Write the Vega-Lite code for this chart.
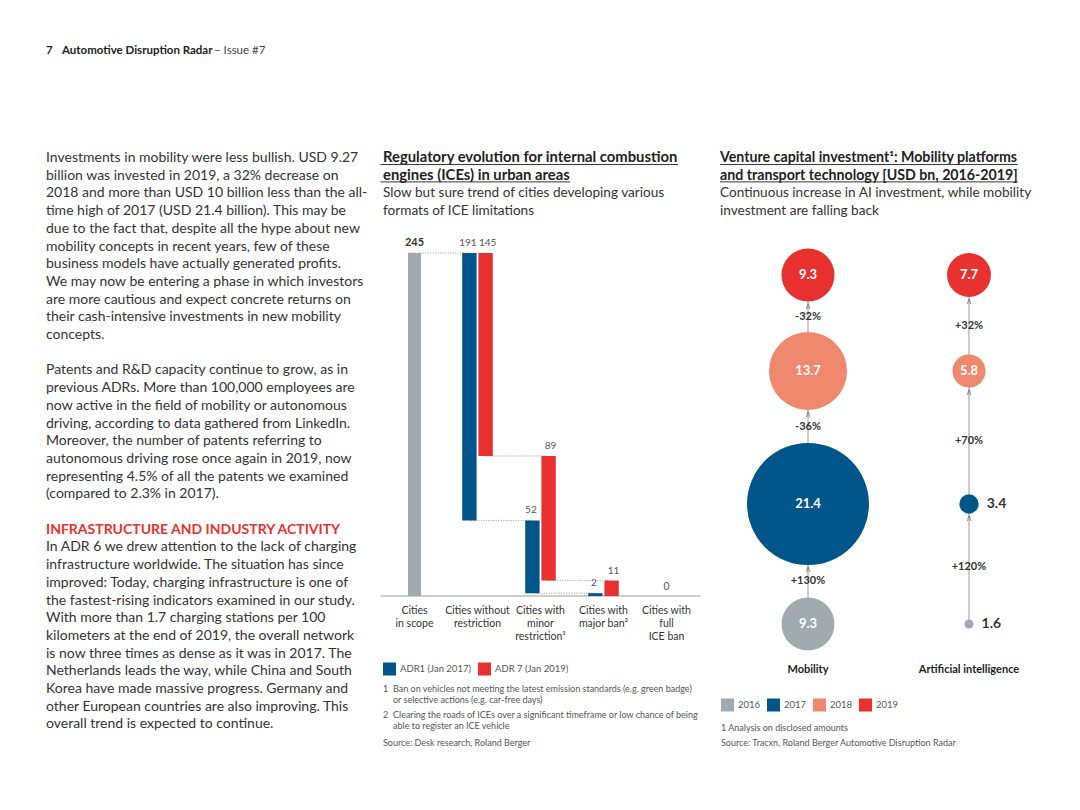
{
  "$schema": "https://vega.github.io/schema/vega-lite/v6.json",
  "background": "white",
  "padding": {"left": 46, "top": 0, "right": 0, "bottom": 0},
  "bounds": "flush",
  "spacing": 19.5,
  "config": {"view": {"stroke": null}},
  "datasets": {
    "leftText": [
      {"row": -6.05, "role": "page", "text": "7"},
      {"row": -6.05, "role": "publication", "text": "Automotive Disruption Radar"},
      {"row": -6.05, "role": "issue", "text": "– Issue #7"},
      {"row": 0, "role": "body", "text": "Investments in mobility were less bullish. USD 9.27"},
      {"row": 1, "role": "body", "text": "billion was invested in 2019, a 32% decrease on"},
      {"row": 2, "role": "body", "text": "2018 and more than USD 10 billion less than the all-"},
      {"row": 3, "role": "body", "text": "time high of 2017 (USD 21.4 billion). This may be"},
      {"row": 4, "role": "body", "text": "due to the fact that, despite all the hype about new"},
      {"row": 5, "role": "body", "text": "mobility concepts in recent years, few of these"},
      {"row": 6, "role": "body", "text": "business models have actually generated profits."},
      {"row": 7, "role": "body", "text": "We may now be entering a phase in which investors"},
      {"row": 8, "role": "body", "text": "are more cautious and expect concrete returns on"},
      {"row": 9, "role": "body", "text": "their cash-intensive investments in new mobility"},
      {"row": 10, "role": "body", "text": "concepts."},
      {"row": 12, "role": "body", "text": "Patents and R&D capacity continue to grow, as in"},
      {"row": 13, "role": "body", "text": "previous ADRs. More than 100,000 employees are"},
      {"row": 14, "role": "body", "text": "now active in the field of mobility or autonomous"},
      {"row": 15, "role": "body", "text": "driving, according to data gathered from LinkedIn."},
      {"row": 16, "role": "body", "text": "Moreover, the number of patents referring to"},
      {"row": 17, "role": "body", "text": "autonomous driving rose once again in 2019, now"},
      {"row": 18, "role": "body", "text": "representing 4.5% of all the patents we examined"},
      {"row": 19, "role": "body", "text": "(compared to 2.3% in 2017)."},
      {"row": 21, "role": "heading", "text": "INFRASTRUCTURE AND INDUSTRY ACTIVITY"},
      {"row": 22, "role": "body", "text": "In ADR 6 we drew attention to the lack of charging"},
      {"row": 23, "role": "body", "text": "infrastructure worldwide. The situation has since"},
      {"row": 24, "role": "body", "text": "improved: Today, charging infrastructure is one of"},
      {"row": 25, "role": "body", "text": "the fastest-rising indicators examined in our study."},
      {"row": 26, "role": "body", "text": "With more than 1.7 charging stations per 100"},
      {"row": 27, "role": "body", "text": "kilometers at the end of 2019, the overall network"},
      {"row": 28, "role": "body", "text": "is now three times as dense as it was in 2017. The"},
      {"row": 29, "role": "body", "text": "Netherlands leads the way, while China and South"},
      {"row": 30, "role": "body", "text": "Korea have made massive progress. Germany and"},
      {"row": 31, "role": "body", "text": "other European countries are also improving. This"},
      {"row": 32, "role": "body", "text": "overall trend is expected to continue."}
    ],
    "midText": [
      {"row": 0, "role": "title", "text": "Regulatory evolution for internal combustion"},
      {"row": 1, "role": "title", "text": "engines (ICEs) in urban areas"},
      {"row": 2, "role": "subtitle", "text": "Slow but sure trend of cities developing various"},
      {"row": 3, "role": "subtitle", "text": "formats of ICE limitations"},
      {"row": 30, "role": "noteNumber", "text": "1"},
      {"row": 30, "role": "note", "text": "Ban on vehicles not meeting the latest emission standards (e.g. green badge)"},
      {"row": 30.62, "role": "note", "text": "or selective actions (e.g. car-free days)"},
      {"row": 31.47, "role": "noteNumber", "text": "2"},
      {"row": 31.47, "role": "note", "text": "Clearing the roads of ICEs over a significant timeframe or low chance of being"},
      {"row": 32.09, "role": "note", "text": "able to register an ICE vehicle"},
      {"row": 33.05, "role": "source", "text": "Source: Desk research, Roland Berger"}
    ],
    "rightText": [
      {"row": 0, "role": "title", "text": "Venture capital investment¹: Mobility platforms"},
      {"row": 1, "role": "title", "text": "and transport technology [USD bn, 2016-2019]"},
      {"row": 2, "role": "subtitle", "text": "Continuous increase in AI investment, while mobility"},
      {"row": 3, "role": "subtitle", "text": "investment are falling back"},
      {"row": 32.2, "role": "source", "text": "1 Analysis on disclosed amounts"},
      {"row": 33.05, "role": "source", "text": "Source: Tracxn, Roland Berger Automotive Disruption Radar"}
    ],
    "midUnderlines": [
      {"row": 0.37, "start": 0.008, "end": 0.93},
      {"row": 1.35, "start": 0.008, "end": 0.593}
    ],
    "rightUnderlines": [
      {"row": 0.37, "start": 0, "end": 0.942},
      {"row": 1.35, "start": 0, "end": 0.942}
    ],
    "categories": [
      {"cat": "Cities in scope", "label": "Cities\nin scope"},
      {"cat": "Cities without restriction", "label": "Cities without\nrestriction"},
      {"cat": "Cities with minor restriction", "label": "Cities with\nminor\nrestriction¹"},
      {"cat": "Cities with major ban", "label": "Cities with\nmajor ban²"},
      {"cat": "Cities with full ICE ban", "label": "Cities with\nfull\nICE ban"}
    ],
    "scope": [
      {"cat": "Cities in scope", "start": 0, "end": 245, "value": 245}
    ],
    "fullBan": [
      {"cat": "Cities with full ICE ban", "start": 0, "end": 0, "value": 0}
    ],
    "bars": [
      {"cat": "Cities without restriction", "series": "ADR1 (Jan 2017)", "start": 54, "end": 245, "value": 191},
      {"cat": "Cities without restriction", "series": "ADR 7 (Jan 2019)", "start": 100, "end": 245, "value": 145},
      {"cat": "Cities with minor restriction", "series": "ADR1 (Jan 2017)", "start": 2, "end": 54, "value": 52},
      {"cat": "Cities with minor restriction", "series": "ADR 7 (Jan 2019)", "start": 11, "end": 100, "value": 89},
      {"cat": "Cities with major ban", "series": "ADR1 (Jan 2017)", "start": 0, "end": 2, "value": 2},
      {"cat": "Cities with major ban", "series": "ADR 7 (Jan 2019)", "start": 0, "end": 11, "value": 11}
    ],
    "links": [
      {"from": "Cities in scope", "to": "Cities without restriction", "level": 245, "series": "ADR1 (Jan 2017)"},
      {"from": "Cities without restriction", "to": "Cities with minor restriction", "level": 54, "series": "ADR1 (Jan 2017)"},
      {"from": "Cities with minor restriction", "to": "Cities with major ban", "level": 2, "series": "ADR1 (Jan 2017)"},
      {"from": "Cities without restriction", "to": "Cities with minor restriction", "level": 100, "series": "ADR 7 (Jan 2019)"},
      {"from": "Cities with minor restriction", "to": "Cities with major ban", "level": 11, "series": "ADR 7 (Jan 2019)"}
    ],
    "bubbles": [
      {"series": "Mobility", "year": 2016, "value": 9.3},
      {"series": "Mobility", "year": 2017, "value": 21.4},
      {"series": "Mobility", "year": 2018, "value": 13.7},
      {"series": "Mobility", "year": 2019, "value": 9.3},
      {"series": "Artificial intelligence", "year": 2016, "value": 1.6},
      {"series": "Artificial intelligence", "year": 2017, "value": 3.4},
      {"series": "Artificial intelligence", "year": 2018, "value": 5.8},
      {"series": "Artificial intelligence", "year": 2019, "value": 7.7}
    ],
    "changes": [
      {"series": "Mobility", "from": 2016, "to": 2017, "period": 2016.5, "change": 12.1, "toValue": 21.4, "label": "+130%"},
      {"series": "Mobility", "from": 2017, "to": 2018, "period": 2017.5, "change": -7.7, "toValue": 13.7, "label": "-36%"},
      {"series": "Mobility", "from": 2018, "to": 2019, "period": 2018.5, "change": -4.4, "toValue": 9.3, "label": "-32%"},
      {"series": "Artificial intelligence", "from": 2016, "to": 2017, "period": 2016.5, "change": 1.8, "toValue": 3.4, "label": "+120%"},
      {"series": "Artificial intelligence", "from": 2017, "to": 2018, "period": 2017.5, "change": 2.4, "toValue": 5.8, "label": "+70%"},
      {"series": "Artificial intelligence", "from": 2018, "to": 2019, "period": 2018.5, "change": 1.9, "toValue": 7.7, "label": "+32%"}
    ],
    "seriesNames": [
      {"series": "Mobility"},
      {"series": "Artificial intelligence"}
    ]
  },
  "hconcat": [
    {
      "width": 315,
      "height": 810,
      "data": {"name": "leftText"},
      "encoding": {
        "x": {"datum": 0, "type": "quantitative", "scale": {"domain": [0, 1], "nice": false, "zero": false}, "axis": null},
        "y": {"field": "row", "type": "quantitative", "scale": {"domain": [-8.9266, 36.8361], "reverse": true, "nice": false, "zero": false}, "axis": null}
      },
      "layer": [
        {
          "transform": [{"filter": "datum.role === 'body'"}],
          "mark": {"type": "text", "align": "left", "baseline": "middle", "font": "Lato", "fontSize": 14, "color": "#333333"},
          "encoding": {"text": {"field": "text"}}
        },
        {
          "transform": [{"filter": "datum.role === 'heading'"}],
          "mark": {"type": "text", "align": "left", "baseline": "middle", "font": "Lato", "fontSize": 14, "fontWeight": "bold", "color": "#E8312F"},
          "encoding": {"text": {"field": "text"}}
        },
        {
          "transform": [{"filter": "datum.role === 'page'"}],
          "mark": {"type": "text", "align": "left", "baseline": "middle", "font": "Lato", "fontSize": 11.5, "fontWeight": "bold", "color": "#222222"},
          "encoding": {"text": {"field": "text"}}
        },
        {
          "transform": [{"filter": "datum.role === 'publication'"}],
          "mark": {"type": "text", "align": "left", "baseline": "middle", "font": "Lato", "fontSize": 11.5, "fontWeight": "bold", "color": "#222222", "dx": 16},
          "encoding": {"text": {"field": "text"}}
        },
        {
          "transform": [{"filter": "datum.role === 'issue'"}],
          "mark": {"type": "text", "align": "left", "baseline": "middle", "font": "Lato", "fontSize": 11.5, "color": "#444444", "dx": 168},
          "encoding": {"text": {"field": "text"}}
        },
        {
          "data": {"values": [{"element": "accent bar"}]},
          "mark": {"type": "rule", "color": "#00558A", "strokeWidth": 4},
          "encoding": {
            "x2": {"datum": 0.146},
            "y": {"datum": -1.64, "type": "quantitative", "scale": {"domain": [-8.9266, 36.8361], "reverse": true, "nice": false, "zero": false}, "axis": null}
          }
        }
      ]
    },
    {
      "width": 320,
      "height": 810,
      "layer": [
        {
          "data": {"name": "midText"},
          "encoding": {
            "x": {"datum": 0, "type": "quantitative", "scale": {"domain": [0, 1], "nice": false, "zero": false}, "axis": null},
            "y": {"field": "row", "type": "quantitative", "scale": {"domain": [-8.9266, 36.8361], "reverse": true, "nice": false, "zero": false}, "axis": null}
          },
          "layer": [
            {
              "transform": [{"filter": "datum.role === 'title'"}],
              "mark": {"type": "text", "align": "left", "baseline": "middle", "font": "Lato", "fontSize": 14.8, "fontWeight": "bold", "color": "#222222", "dx": 2.5},
              "encoding": {"text": {"field": "text"}}
            },
            {
              "data": {"name": "midUnderlines"},
              "mark": {"type": "rule", "color": "#333333", "strokeWidth": 1},
              "encoding": {
                "x": {"field": "start", "type": "quantitative", "scale": {"domain": [0, 1], "nice": false, "zero": false}, "axis": null},
                "x2": {"field": "end"}
              }
            },
            {
              "transform": [{"filter": "datum.role === 'subtitle'"}],
              "mark": {"type": "text", "align": "left", "baseline": "middle", "font": "Lato", "fontSize": 13.6, "color": "#333333", "dx": 2.5},
              "encoding": {"text": {"field": "text"}}
            },
            {
              "transform": [{"filter": "datum.role === 'noteNumber'"}],
              "mark": {"type": "text", "align": "left", "baseline": "middle", "font": "Lato", "fontSize": 9, "color": "#555555", "dx": 2.5},
              "encoding": {"text": {"field": "text"}}
            },
            {
              "transform": [{"filter": "datum.role === 'note'"}],
              "mark": {"type": "text", "align": "left", "baseline": "middle", "font": "Lato", "fontSize": 9, "color": "#555555", "dx": 12.5},
              "encoding": {"text": {"field": "text"}}
            },
            {
              "transform": [{"filter": "datum.role === 'source'"}],
              "mark": {"type": "text", "align": "left", "baseline": "middle", "font": "Lato", "fontSize": 9, "color": "#555555", "dx": 2.5},
              "encoding": {"text": {"field": "text"}}
            },
            {
              "data": {"values": [{"element": "separator"}]},
              "mark": {"type": "rule", "color": "#8A8A8A", "strokeWidth": 1, "strokeDash": [1, 2]},
              "encoding": {
                "x2": {"datum": 1},
                "y": {"datum": -1.7, "type": "quantitative", "scale": {"domain": [-8.9266, 36.8361], "reverse": true, "nice": false, "zero": false}, "axis": null}
              }
            }
          ]
        },
        {
          "layer": [
            {
              "data": {"name": "links"},
              "transform": [{"filter": "datum.series === 'ADR1 (Jan 2017)'"}],
              "mark": {"type": "rule", "color": "#9A9A9A", "strokeWidth": 1, "strokeDash": [1, 1.5]},
              "encoding": {
                "x": {"field": "from", "type": "nominal", "bandPosition": 0.393, "scale": {"domain": ["Cities in scope", "Cities without restriction", "Cities with minor restriction", "Cities with major ban", "Cities with full ICE ban"], "paddingInner": 0, "paddingOuter": 0.0397}, "axis": null},
                "x2": {"field": "to", "bandPosition": 0.393},
                "y": {"field": "level", "type": "quantitative", "scale": {"domain": [-152.86, 425.71], "nice": false, "zero": false}, "axis": null}
              }
            },
            {
              "data": {"name": "links"},
              "transform": [{"filter": "datum.series === 'ADR 7 (Jan 2019)'"}],
              "mark": {"type": "rule", "color": "#9A9A9A", "strokeWidth": 1, "strokeDash": [1, 1.5]},
              "encoding": {
                "x": {"field": "from", "type": "nominal", "bandPosition": 0.607, "scale": {"domain": ["Cities in scope", "Cities without restriction", "Cities with minor restriction", "Cities with major ban", "Cities with full ICE ban"], "paddingInner": 0, "paddingOuter": 0.0397}, "axis": null},
                "x2": {"field": "to", "bandPosition": 0.607},
                "y": {"field": "level", "type": "quantitative", "scale": {"domain": [-152.86, 425.71], "nice": false, "zero": false}, "axis": null}
              }
            },
            {
              "data": {"values": [{"element": "baseline"}]},
              "mark": {"type": "rule", "color": "#9A9A9A", "strokeWidth": 1},
              "encoding": {
                "y": {"datum": 0, "type": "quantitative", "scale": {"domain": [-152.86, 425.71], "nice": false, "zero": false}, "axis": null}
              }
            },
            {
              "data": {"name": "scope"},
              "mark": {"type": "bar", "color": "#A1AAB1", "width": 13},
              "encoding": {
                "x": {"field": "cat", "type": "nominal", "scale": {"domain": ["Cities in scope", "Cities without restriction", "Cities with minor restriction", "Cities with major ban", "Cities with full ICE ban"], "paddingInner": 0, "paddingOuter": 0.0397}, "axis": null},
                "y": {"field": "end", "type": "quantitative", "scale": {"domain": [-152.86, 425.71], "nice": false, "zero": false}, "axis": null},
                "y2": {"field": "start"}
              }
            },
            {
              "data": {"name": "bars"},
              "mark": {"type": "bar"},
              "encoding": {
                "x": {"field": "cat", "type": "nominal", "scale": {"domain": ["Cities in scope", "Cities without restriction", "Cities with minor restriction", "Cities with major ban", "Cities with full ICE ban"], "paddingInner": 0, "paddingOuter": 0.0397}, "axis": null},
                "xOffset": {"field": "series", "type": "nominal", "scale": {"domain": ["ADR1 (Jan 2017)", "ADR 7 (Jan 2019)"], "paddingInner": 0.111, "paddingOuter": 1.389}},
                "y": {"field": "end", "type": "quantitative", "scale": {"domain": [-152.86, 425.71], "nice": false, "zero": false}, "axis": null},
                "y2": {"field": "start"},
                "color": {
                  "field": "series",
                  "type": "nominal",
                  "scale": {"domain": ["ADR1 (Jan 2017)", "ADR 7 (Jan 2019)"], "range": ["#00558A", "#E8312F"]},
                  "legend": {"orient": "none", "legendX": 2.5, "legendY": 662.5, "direction": "horizontal", "title": null, "symbolType": "square", "symbolSize": 169, "symbolStrokeWidth": 0, "labelFont": "Lato", "labelFontSize": 9.5, "labelColor": "#555555", "columnPadding": 7, "labelOffset": 4, "padding": 0}
                }
              }
            },
            {
              "data": {"name": "scope"},
              "mark": {"type": "text", "align": "center", "baseline": "middle", "dy": -10, "font": "Lato", "fontSize": 11, "fontWeight": "bold", "color": "#333333"},
              "encoding": {
                "x": {"field": "cat", "type": "nominal", "scale": {"domain": ["Cities in scope", "Cities without restriction", "Cities with minor restriction", "Cities with major ban", "Cities with full ICE ban"], "paddingInner": 0, "paddingOuter": 0.0397}, "axis": null},
                "y": {"field": "end", "type": "quantitative", "scale": {"domain": [-152.86, 425.71], "nice": false, "zero": false}, "axis": null},
                "text": {"field": "value"}
              }
            },
            {
              "data": {"name": "fullBan"},
              "mark": {"type": "text", "align": "center", "baseline": "middle", "dy": -9, "font": "Lato", "fontSize": 10.5, "color": "#555555"},
              "encoding": {
                "x": {"field": "cat", "type": "nominal", "scale": {"domain": ["Cities in scope", "Cities without restriction", "Cities with minor restriction", "Cities with major ban", "Cities with full ICE ban"], "paddingInner": 0, "paddingOuter": 0.0397}, "axis": null},
                "y": {"field": "end", "type": "quantitative", "scale": {"domain": [-152.86, 425.71], "nice": false, "zero": false}, "axis": null},
                "text": {"field": "value"}
              }
            },
            {
              "data": {"name": "bars"},
              "transform": [{"filter": "datum.series === 'ADR1 (Jan 2017)'"}],
              "mark": {"type": "text", "align": "center", "baseline": "middle", "dy": -10, "dx": -1.5, "font": "Lato", "fontSize": 10, "color": "#555555"},
              "encoding": {
                "x": {"field": "cat", "type": "nominal", "scale": {"domain": ["Cities in scope", "Cities without restriction", "Cities with minor restriction", "Cities with major ban", "Cities with full ICE ban"], "paddingInner": 0, "paddingOuter": 0.0397}, "axis": null},
                "xOffset": {"field": "series", "type": "nominal", "scale": {"domain": ["ADR1 (Jan 2017)", "ADR 7 (Jan 2019)"], "paddingInner": 0.111, "paddingOuter": 1.389}},
                "y": {"field": "end", "type": "quantitative", "scale": {"domain": [-152.86, 425.71], "nice": false, "zero": false}, "axis": null},
                "text": {"field": "value"}
              }
            },
            {
              "data": {"name": "bars"},
              "transform": [{"filter": "datum.series === 'ADR 7 (Jan 2019)'"}],
              "mark": {"type": "text", "align": "center", "baseline": "middle", "dy": -10, "dx": 2, "font": "Lato", "fontSize": 10, "color": "#555555"},
              "encoding": {
                "x": {"field": "cat", "type": "nominal", "scale": {"domain": ["Cities in scope", "Cities without restriction", "Cities with minor restriction", "Cities with major ban", "Cities with full ICE ban"], "paddingInner": 0, "paddingOuter": 0.0397}, "axis": null},
                "xOffset": {"field": "series", "type": "nominal", "scale": {"domain": ["ADR1 (Jan 2017)", "ADR 7 (Jan 2019)"], "paddingInner": 0.111, "paddingOuter": 1.389}},
                "y": {"field": "end", "type": "quantitative", "scale": {"domain": [-152.86, 425.71], "nice": false, "zero": false}, "axis": null},
                "text": {"field": "value"}
              }
            },
            {
              "data": {"name": "categories"},
              "mark": {"type": "text", "align": "center", "baseline": "top", "dy": 10, "lineBreak": "\n", "lineHeight": 13, "font": "Lato", "fontSize": 10.5, "color": "#333333"},
              "encoding": {
                "x": {"field": "cat", "type": "nominal", "scale": {"domain": ["Cities in scope", "Cities without restriction", "Cities with minor restriction", "Cities with major ban", "Cities with full ICE ban"], "paddingInner": 0, "paddingOuter": 0.0397}, "axis": null},
                "y": {"datum": 0, "type": "quantitative", "scale": {"domain": [-152.86, 425.71], "nice": false, "zero": false}, "axis": null},
                "text": {"field": "label"}
              }
            }
          ]
        }
      ],
      "resolve": {"scale": {"x": "independent", "y": "independent"}}
    },
    {
      "width": 316,
      "height": 810,
      "layer": [
        {
          "data": {"name": "rightText"},
          "encoding": {
            "x": {"datum": 0, "type": "quantitative", "scale": {"domain": [0, 1], "nice": false, "zero": false}, "axis": null},
            "y": {"field": "row", "type": "quantitative", "scale": {"domain": [-8.9266, 36.8361], "reverse": true, "nice": false, "zero": false}, "axis": null}
          },
          "layer": [
            {
              "transform": [{"filter": "datum.role === 'title'"}],
              "mark": {"type": "text", "align": "left", "baseline": "middle", "font": "Lato", "fontSize": 14.2, "fontWeight": "bold", "color": "#222222"},
              "encoding": {"text": {"field": "text"}}
            },
            {
              "data": {"name": "rightUnderlines"},
              "mark": {"type": "rule", "color": "#333333", "strokeWidth": 1},
              "encoding": {
                "x": {"field": "start", "type": "quantitative", "scale": {"domain": [0, 1], "nice": false, "zero": false}, "axis": null},
                "x2": {"field": "end"}
              }
            },
            {
              "transform": [{"filter": "datum.role === 'subtitle'"}],
              "mark": {"type": "text", "align": "left", "baseline": "middle", "font": "Lato", "fontSize": 13.6, "color": "#333333"},
              "encoding": {"text": {"field": "text"}}
            },
            {
              "transform": [{"filter": "datum.role === 'source'"}],
              "mark": {"type": "text", "align": "left", "baseline": "middle", "font": "Lato", "fontSize": 9, "color": "#555555", "dx": 1},
              "encoding": {"text": {"field": "text"}}
            },
            {
              "data": {"values": [{"element": "separator"}]},
              "mark": {"type": "rule", "color": "#8A8A8A", "strokeWidth": 1, "strokeDash": [1, 2]},
              "encoding": {
                "x2": {"datum": 1},
                "y": {"datum": -1.7, "type": "quantitative", "scale": {"domain": [-8.9266, 36.8361], "reverse": true, "nice": false, "zero": false}, "axis": null}
              }
            }
          ]
        },
        {
          "layer": [
            {
              "data": {"name": "changes"},
              "mark": {"type": "rule", "color": "#999999", "strokeWidth": 1},
              "encoding": {
                "x": {"field": "series", "type": "nominal", "scale": {"type": "point", "domain": ["Mobility", "Artificial intelligence"], "range": [88, 249], "padding": 0}, "axis": null},
                "y": {"field": "from", "type": "quantitative", "scale": {"domain": [2016, 2017, 2018, 2019], "range": [624, 504, 371, 275], "nice": false, "zero": false}, "axis": null},
                "y2": {"field": "to"}
              }
            },
            {
              "data": {"name": "bubbles"},
              "mark": {"type": "circle", "opacity": 1},
              "encoding": {
                "x": {"field": "series", "type": "nominal", "scale": {"type": "point", "domain": ["Mobility", "Artificial intelligence"], "range": [88, 249], "padding": 0}, "axis": null},
                "y": {"field": "year", "type": "quantitative", "scale": {"domain": [2016, 2017, 2018, 2019], "range": [624, 504, 371, 275], "nice": false, "zero": false}, "axis": null},
                "size": {"field": "value", "type": "quantitative", "scale": {"type": "pow", "exponent": 2, "domain": [0, 21.4], "range": [0, 14884]}, "legend": null},
                "color": {
                  "field": "year",
                  "type": "nominal",
                  "scale": {"domain": [2016, 2017, 2018, 2019], "range": ["#A1AAB1", "#00558A", "#F0886D", "#E8312F"]},
                  "legend": {"orient": "none", "legendX": 1, "legendY": 698.5, "direction": "horizontal", "title": null, "symbolType": "square", "symbolSize": 169, "symbolStrokeWidth": 0, "symbolOpacity": 1, "labelFont": "Lato", "labelFontSize": 9.5, "labelColor": "#555555", "columnPadding": 6, "labelOffset": 4, "padding": 0}
                }
              }
            },
            {
              "data": {"name": "bubbles"},
              "transform": [{"filter": "datum.value >= 5"}],
              "mark": {"type": "text", "align": "center", "baseline": "middle", "font": "Lato", "fontSize": 13, "fontWeight": "bold", "color": "white"},
              "encoding": {
                "x": {"field": "series", "type": "nominal", "scale": {"type": "point", "domain": ["Mobility", "Artificial intelligence"], "range": [88, 249], "padding": 0}, "axis": null},
                "y": {"field": "year", "type": "quantitative", "scale": {"domain": [2016, 2017, 2018, 2019], "range": [624, 504, 371, 275], "nice": false, "zero": false}, "axis": null},
                "text": {"field": "value", "format": ".1f"}
              }
            },
            {
              "data": {"name": "changes"},
              "mark": {"type": "text", "align": "center", "baseline": "middle", "font": "Lato", "fontSize": 11, "fontWeight": "bold", "color": "#333333"},
              "encoding": {
                "x": {"field": "series", "type": "nominal", "scale": {"type": "point", "domain": ["Mobility", "Artificial intelligence"], "range": [88, 249], "padding": 0}, "axis": null},
                "y": {"field": "period", "type": "quantitative", "scale": {"domain": [2016, 2017, 2018, 2019], "range": [624, 504, 371, 275], "nice": false, "zero": false}, "axis": null},
                "radius": {"field": "change", "type": "quantitative", "scale": {"type": "linear", "domain": [-21.4, 21.4], "range": [-30.5, 30.5], "zero": false, "nice": false}},
                "theta": {"value": 3.14159},
                "text": {"field": "label"}
              }
            },
            {
              "layer": [
                {
                  "data": {"name": "changes"},
                  "mark": {"type": "text", "align": "center", "baseline": "top", "dy": 0, "font": "DejaVu Sans", "fontSize": 9, "color": "#777777", "text": "∧"},
                  "encoding": {
                    "x": {"field": "series", "type": "nominal", "scale": {"type": "point", "domain": ["Mobility", "Artificial intelligence"], "range": [88, 249], "padding": 0}, "axis": null},
                    "y": {"field": "to", "type": "quantitative", "scale": {"domain": [2016, 2017, 2018, 2019], "range": [624, 504, 371, 275], "nice": false, "zero": false}, "axis": null},
                    "radius": {"field": "toValue", "type": "quantitative", "scale": {"type": "linear", "domain": [0, 21.4], "range": [0, 61], "zero": false, "nice": false}},
                    "theta": {"value": 3.14159}
                  }
                },
                {
                  "data": {"name": "bubbles"},
                  "transform": [{"filter": "datum.value < 5"}],
                  "mark": {"type": "text", "align": "left", "baseline": "middle", "dx": 8, "font": "Lato", "fontSize": 14, "fontWeight": "bold", "color": "#333333"},
                  "encoding": {
                    "x": {"field": "series", "type": "nominal", "scale": {"type": "point", "domain": ["Mobility", "Artificial intelligence"], "range": [88, 249], "padding": 0}, "axis": null},
                    "y": {"field": "year", "type": "quantitative", "scale": {"domain": [2016, 2017, 2018, 2019], "range": [624, 504, 371, 275], "nice": false, "zero": false}, "axis": null},
                    "radius": {"field": "value", "type": "quantitative", "scale": {"type": "linear", "domain": [0, 21.4], "range": [0, 61], "zero": false, "nice": false}},
                    "theta": {"value": 1.5708},
                    "text": {"field": "value", "format": ".1f"}
                  }
                }
              ]
            }
          ],
          "resolve": {"scale": {"radius": "independent"}}
        },
        {
          "data": {"name": "seriesNames"},
          "mark": {"type": "text", "align": "center", "baseline": "middle", "font": "Lato", "fontSize": 11, "fontWeight": "bold", "color": "#222222"},
          "encoding": {
            "x": {"field": "series", "type": "nominal", "scale": {"type": "point", "domain": ["Mobility", "Artificial intelligence"], "range": [88, 249], "padding": 0}, "axis": null},
            "y": {"datum": 28.93, "type": "quantitative", "scale": {"domain": [-8.9266, 36.8361], "reverse": true, "nice": false, "zero": false}, "axis": null},
            "text": {"field": "series"}
          }
        }
      ],
      "resolve": {"scale": {"x": "independent", "y": "independent"}}
    }
  ],
  "resolve": {
    "scale": {"color": "independent", "size": "independent", "xOffset": "independent", "radius": "independent"},
    "legend": {"color": "independent"}
  }
}
